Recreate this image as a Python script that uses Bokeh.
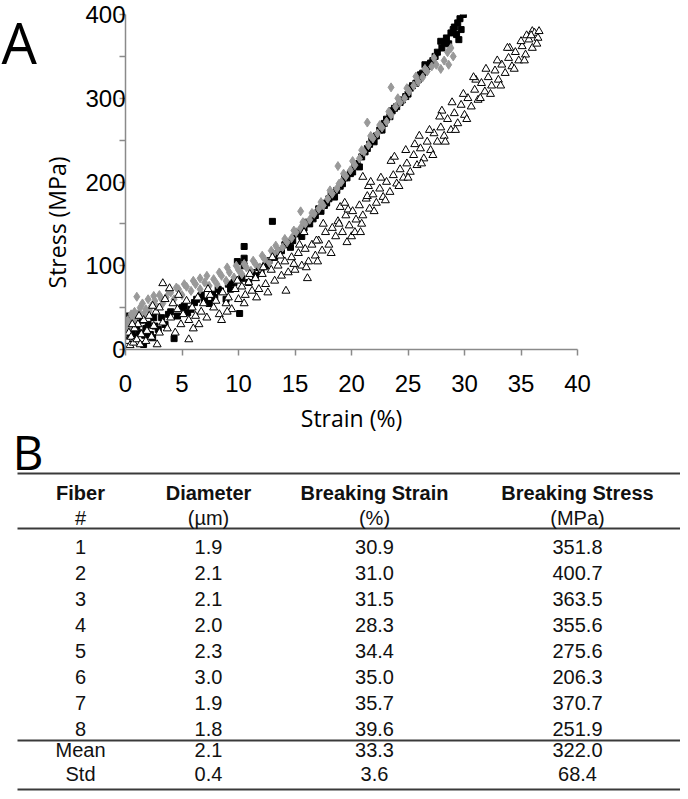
from bokeh.plotting import figure
from bokeh.models import Range1d, FixedTicker, Label, ColumnDataSource
from bokeh.layouts import column, row
from bokeh.core.properties import value
from bokeh.embed import file_html
from bokeh.resources import INLINE

# ---------------- Panel A data (strain %, stress MPa) ----------------
sq_pts = [
    (0.1, 40), (0.2, 25), (0.3, 18), (0.4, 33), (0.5, 30), (0.6, 22), (0.8, 15), (0.9, 36), (1.0, 28),
    (1.2, 20), (1.4, 35), (1.6, 6), (1.7, 17), (1.8, 25), (2.0, 30), (2.2, 18), (2.4, 14), (2.5, 38),
    (2.6, 28), (2.9, 24), (3.2, 38), (3.5, 30), (3.8, 42), (4.0, 45), (4.3, 13), (4.6, 40), (5.0, 50),
    (5.2, 52), (5.5, 44), (5.8, 48), (6.1, 56), (6.3, 60), (6.7, 65), (7.0, 58), (7.4, 55), (7.7, 66),
    (7.9, 62), (8.2, 72), (8.4, 70), (8.9, 60), (9.1, 78), (9.3, 72), (9.6, 80), (9.9, 105), (10.1, 43),
    (10.3, 85), (10.5, 123), (10.5, 109), (10.5, 100), (10.9, 80), (11.2, 92), (11.5, 88), (11.8, 98),
    (12.0, 95), (12.4, 100), (12.7, 106), (13.0, 153), (13.2, 110), (13.5, 115), (13.8, 118), (14.1, 125),
    (14.3, 128), (14.6, 122), (14.8, 130), (15.1, 138), (15.3, 140), (15.6, 135), (15.8, 145), (16.1, 152),
    (16.3, 150), (16.6, 156), (16.8, 160), (17.1, 168), (17.3, 165), (17.6, 172), (17.8, 175), (18.0, 180),
    (18.2, 185), (18.5, 182), (18.7, 190), (19.0, 195), (19.2, 198), (19.4, 205), (19.6, 205), (19.9, 210),
    (20.1, 212), (20.3, 220), (20.5, 222), (20.7, 218), (20.9, 230), (21.2, 236), (21.4, 240), (21.6, 245),
    (21.8, 250), (22.0, 248), (22.2, 255), (22.5, 262), (22.7, 262), (22.9, 270), (23.1, 275), (23.4, 278),
    (23.6, 285), (23.8, 288), (24.0, 290), (24.3, 295), (24.5, 298), (24.8, 302), (25.0, 305), (25.2, 312),
    (25.4, 315), (25.7, 318), (25.9, 322), (26.1, 328), (26.3, 330), (26.5, 340), (26.8, 338), (27.0, 342),
    (27.2, 345), (27.4, 350), (27.6, 355), (27.9, 368), (28.0, 360), (28.2, 366), (28.4, 372), (28.6, 365),
    (28.8, 378), (29.0, 382), (29.1, 385), (29.3, 376), (29.4, 390), (29.5, 370), (29.6, 395), (29.7, 382),
    (29.9, 400),
]
square_strain = [p[0] for p in sq_pts]
square_stress = [p[1] for p in sq_pts]

gr_pts = [
    (0.0, 20), (0.1, 28), (0.2, 35), (0.3, 24), (0.4, 28), (0.5, 42), (0.6, 40), (0.7, 32), (0.8, 45),
    (1.0, 38), (1.0, 63), (1.2, 44), (1.3, 50), (1.5, 55), (1.6, 42), (1.8, 48), (2.0, 60), (2.1, 46),
    (2.3, 52), (2.5, 64), (2.6, 58), (2.8, 50), (3.0, 65), (3.2, 60), (3.3, 55), (3.6, 62), (3.8, 70),
    (4.0, 68), (4.3, 60), (4.5, 74), (4.7, 72), (5.0, 65), (5.2, 78), (5.4, 75), (5.8, 70), (6.0, 82),
    (6.2, 78), (6.6, 72), (6.6, 85), (7.0, 80), (7.2, 88), (7.4, 76), (7.8, 84), (8.1, 78), (8.3, 92),
    (8.5, 88), (8.9, 82), (9.0, 98), (9.2, 92), (9.6, 86), (9.8, 100), (10.0, 95), (10.3, 90), (10.5, 102),
    (10.7, 98), (11.1, 94), (11.3, 106), (11.5, 102), (11.9, 98), (12.1, 112), (12.3, 108), (12.7, 104),
    (12.9, 118), (13.1, 114), (13.3, 124), (13.5, 118), (13.9, 122), (14.1, 132), (14.3, 128), (14.7, 133),
    (14.9, 142), (15.1, 140), (15.5, 145), (15.5, 165), (15.7, 152), (15.9, 150), (16.3, 155), (16.5, 163),
    (16.7, 162), (17.1, 168), (17.3, 176), (17.5, 172), (17.9, 180), (18.1, 190), (18.3, 186), (18.7, 192),
    (18.8, 219), (18.9, 198), (19.1, 200), (19.3, 210), (19.5, 207), (19.9, 214), (20.1, 225), (20.3, 220),
    (20.7, 228), (20.9, 238), (21.1, 236), (21.4, 271), (21.5, 244), (21.7, 255), (21.9, 252), (22.3, 258),
    (22.5, 268), (22.7, 265), (23.1, 272), (23.3, 284), (23.5, 280), (23.5, 313), (23.9, 290), (24.1, 300),
    (24.3, 295), (24.7, 300), (24.9, 312), (25.1, 308), (25.5, 315), (25.7, 326), (25.9, 320), (26.3, 325),
    (26.5, 335), (26.7, 332), (27.1, 338), (27.3, 348), (27.5, 340), (27.9, 335), (28.2, 345), (28.5, 355),
    (28.6, 340), (28.8, 360), (29.0, 350),
]
diamond_strain = [p[0] for p in gr_pts]
diamond_stress = [p[1] for p in gr_pts]

tri_pts = [
    (0.2, 10), (0.3, 20), (0.4, 5), (0.5, 15), (0.7, 8), (0.8, 25), (1.0, 12), (1.1, 30), (1.3, 6),
    (1.4, 18), (1.6, 35), (1.8, 10), (1.9, 22), (2.1, 40), (2.3, 15), (2.5, 28), (2.7, 45), (2.8, 6),
    (3.0, 50), (3.0, 20), (3.3, 79), (3.3, 32), (3.5, 60), (3.7, 25), (3.9, 73), (4.0, 38), (4.2, 55),
    (4.4, 20), (4.6, 48), (4.9, 30), (5.1, 42), (5.4, 58), (5.6, 35), (5.6, 12), (5.9, 50), (6.0, 25),
    (6.2, 40), (6.4, 62), (6.7, 45), (6.9, 55), (7.2, 38), (7.5, 65), (7.8, 50), (8.0, 58), (8.3, 42),
    (8.5, 35), (8.6, 68), (8.9, 55), (9.1, 62), (9.4, 48), (9.7, 72), (10.0, 60), (10.3, 75), (10.5, 55),
    (10.6, 65), (10.9, 80), (11.2, 70), (11.5, 85), (11.8, 72), (12.1, 90), (12.4, 78), (12.6, 68),
    (12.9, 95), (13.0, 110), (13.2, 82), (13.5, 100), (13.8, 88), (14.1, 105), (14.2, 70), (14.4, 92),
    (14.7, 110), (15.0, 95), (15.3, 115), (15.6, 100), (15.8, 140), (15.9, 120), (16.1, 85), (16.2, 105),
    (16.5, 125), (16.8, 112), (17.0, 105), (17.1, 130), (17.4, 118), (17.7, 140), (18.0, 125), (18.3, 145),
    (18.6, 135), (18.8, 153), (18.9, 150), (19.0, 170), (19.2, 140), (19.5, 160), (19.7, 167), (19.8, 148),
    (20.0, 135), (20.1, 165), (20.4, 155), (20.7, 172), (21.0, 206), (21.0, 160), (21.3, 180), (21.4, 183),
    (21.5, 195), (21.6, 168), (21.9, 185), (22.2, 175), (22.5, 192), (22.8, 182), (23.1, 200), (23.4, 188),
    (23.5, 225), (23.7, 208), (24.0, 198), (24.3, 215), (24.6, 205), (24.9, 222), (25.2, 212), (25.5, 232),
    (25.8, 220), (26.0, 255), (26.1, 240), (26.4, 228), (26.7, 248), (27.0, 238), (27.3, 258), (27.6, 248),
    (27.9, 265), (28.0, 285), (28.2, 255), (28.5, 275), (28.8, 262), (29.1, 282), (29.4, 270), (29.7, 292),
    (30.0, 280), (30.3, 300), (30.6, 290), (30.9, 310), (31.0, 322), (31.2, 298), (31.5, 318), (31.8, 308),
    (32.1, 325), (32.4, 315), (32.7, 333), (33.0, 322), (33.3, 340), (33.6, 330), (33.9, 348), (34.0, 360),
    (34.2, 338), (34.5, 355), (34.8, 345), (35.1, 362), (35.4, 352), (35.5, 375), (35.7, 370), (36.0, 360),
    (36.0, 380), (36.2, 378), (36.5, 372),
    (19.4, 175), (20.3, 140), (20.9, 150), (21.7, 200), (22.0, 165), (22.6, 205), (23.0, 178), (23.8, 230),
    (24.2, 195), (24.8, 238), (25.0, 205), (25.6, 245), (26.2, 222), (26.9, 262), (27.2, 232), (27.8, 278),
    (28.3, 248), (28.9, 295), (29.2, 262), (29.9, 305), (30.2, 275), (30.8, 325), (31.4, 300), (31.9, 335),
    (32.3, 305), (32.9, 345), (33.2, 315), (33.8, 360), (34.4, 335), (35.0, 368), (35.3, 345), (35.9, 375),
    (36.4, 365), (36.6, 380), (17.5, 150), (16.9, 130), (16.0, 98), (15.4, 125), (14.9, 102), (13.7, 112),
    (12.2, 98), (11.6, 62), (11.0, 90), (9.9, 82), (9.0, 45), (7.3, 72), (6.5, 30), (4.7, 65), (2.4, 52),
    (1.2, 40), (0.6, 30), (18.2, 115), (19.6, 128), (20.8, 140),
]
triangle_strain = [p[0] for p in tri_pts]
triangle_stress = [p[1] for p in tri_pts]

x_ticks = [0, 5, 10, 15, 20, 25, 30, 35, 40]
y_ticks = [0, 100, 200, 300, 400]
y_minor = [50, 150, 250, 350]
x_title = "Strain (%)"
y_title = "Stress (MPa)"

# ---------------- Panel B data ----------------
header_top = ["Fiber", "Diameter", "Breaking Strain", "Breaking Stress"]
header_sub = ["#", "(µm)", "(%)", "(MPa)"]
fiber_ids = ["1", "2", "3", "4", "5", "6", "7", "8"]
diameter_um = [1.9, 2.1, 2.1, 2.0, 2.3, 3.0, 1.9, 1.8]
breaking_strain = [30.9, 31.0, 31.5, 28.3, 34.4, 35.0, 35.7, 39.6]
breaking_stress = [351.8, 400.7, 363.5, 355.6, 275.6, 206.3, 370.7, 251.9]
summary_names = ["Mean", "Std"]
summary_diameter = [2.1, 0.4]
summary_strain = [33.3, 3.6]
summary_stress = [322.0, 68.4]

FONT_A = "Open Sans"
FONT_T = "Liberation Sans"
AXIS_GREY = "#8a8a8a"
W = 680           # total width used
H = 791           # total height used
WA = 74           # width of the left strip holding "A" and the y title
HT = 401          # height of the top row (scatter plot with its tick labels)

# ---------------- left strip: panel letter and y title ----------------
pA = figure(width=WA, height=HT, x_range=Range1d(0, WA), y_range=Range1d(HT, 0),
            output_backend="svg", toolbar_location=None,
            x_axis_location=None, y_axis_location=None,
            min_border=0, min_border_left=0, min_border_right=0, min_border_top=0, min_border_bottom=0)
pA.outline_line_color = None
pA.grid.visible = False
pA.frame_align = False
pA.add_layout(Label(x=1, y=41, text="A", text_align="left", text_baseline="middle",
                    text_font=FONT_A, text_font_size="56px", text_color="black"))
pA.add_layout(Label(x=56, y=222, text=y_title, angle=1.5707963, angle_units="rad",
                    text_align="center", text_baseline="middle",
                    text_font=FONT_A, text_font_size="23px", text_color="black"))

# ---------------- Panel A figure ----------------
p1 = figure(width=W - WA, height=HT, x_range=Range1d(0, 40), y_range=Range1d(0, 400),
            output_backend="svg", toolbar_location=None,
            min_border_left=125 - WA, min_border_right=W - 577, min_border_top=14,
            min_border_bottom=HT - 349)
p1.outline_line_color = None
p1.grid.visible = False
p1.frame_align = False
p1.background_fill_color = "white"
p1.border_fill_color = "white"

p1.scatter(square_strain, square_stress, marker="square", size=6,
           fill_color="black", line_color="black")
p1.scatter(diamond_strain, diamond_stress, marker="diamond", size=9,
           fill_color="#999999", line_color="#999999")
p1.scatter(triangle_strain, triangle_stress, marker="triangle", size=8,
           fill_color="white", line_color="black", line_width=1)

xa = p1.xaxis[0]
xa.ticker = FixedTicker(ticks=x_ticks)
xa.major_label_text_font = FONT_T
xa.major_label_text_font_size = "24px"
xa.major_label_text_color = "black"
xa.major_label_standoff = 19
xa.axis_line_color = AXIS_GREY
xa.axis_line_width = 1.5
xa.major_tick_line_color = AXIS_GREY
xa.major_tick_line_width = 1.5
xa.major_tick_in = 0
xa.major_tick_out = 6
xa.minor_tick_line_color = None

ya = p1.yaxis[0]
ya.ticker = FixedTicker(ticks=y_ticks, minor_ticks=y_minor)
ya.major_label_text_font = FONT_T
ya.major_label_text_font_size = "24px"
ya.major_label_text_color = "black"
ya.major_label_standoff = -6
ya.axis_line_color = AXIS_GREY
ya.axis_line_width = 1.5
ya.major_tick_line_color = AXIS_GREY
ya.major_tick_line_width = 1.5
ya.major_tick_in = 0
ya.major_tick_out = 6
ya.minor_tick_line_color = AXIS_GREY
ya.minor_tick_line_width = 1.5
ya.minor_tick_in = 0
ya.minor_tick_out = 6

# ---------------- lower figure: x title, panel letter "B" and the table ----------------
p2 = figure(width=W, height=H - HT, x_range=Range1d(0, W), y_range=Range1d(H, HT),
            output_backend="svg", toolbar_location=None,
            x_axis_location=None, y_axis_location=None,
            min_border=0, min_border_left=0, min_border_right=0, min_border_top=0, min_border_bottom=0)
p2.outline_line_color = None
p2.grid.visible = False
p2.frame_align = False

p2.add_layout(Label(x=351, y=417, text=x_title, text_align="center", text_baseline="middle",
                    text_font=FONT_A, text_font_size="23px", text_color="black"))
p2.add_layout(Label(x=12, y=451, text="B", text_align="left", text_baseline="middle",
                    text_font=FONT_A, text_font_size="48px", text_color="black"))

col_x = [80, 208, 374, 577]
row_y0, row_dy = 546, 26
hdr_y = [492, 517]
rule_y = [473, 528, 740, 789]
sum_y = [749, 773]

hdr_src = ColumnDataSource(dict(x=col_x, y=[hdr_y[0]] * 4, t=header_top))
sub_src = ColumnDataSource(dict(x=col_x, y=[hdr_y[1]] * 4, t=header_sub))

cx, cy, ct = [], [], []
for i in range(len(fiber_ids)):
    vals = [fiber_ids[i], f"{diameter_um[i]:.1f}", f"{breaking_strain[i]:.1f}", f"{breaking_stress[i]:.1f}"]
    for j, v in enumerate(vals):
        cx.append(col_x[j]); cy.append(row_y0 + i * row_dy); ct.append(v)
for i in range(len(summary_names)):
    vals = [summary_names[i], f"{summary_diameter[i]:.1f}", f"{summary_strain[i]:.1f}", f"{summary_stress[i]:.1f}"]
    for j, v in enumerate(vals):
        cx.append(col_x[j]); cy.append(sum_y[i]); ct.append(v)
body_src = ColumnDataSource(dict(x=cx, y=cy, t=ct))

p2.segment(x0=[17] * 4, x1=[W] * 4, y0=rule_y, y1=rule_y, line_color="#3a3a3a", line_width=2)
p2.text(x="x", y="y", text="t", source=hdr_src, text_align="center", text_baseline="middle",
        text_font=value(FONT_T), text_font_size="20px", text_font_style="bold", text_color="#111111")
p2.text(x="x", y="y", text="t", source=sub_src, text_align="center", text_baseline="middle",
        text_font=value(FONT_T), text_font_size="20px", text_color="#111111")
p2.text(x="x", y="y", text="t", source=body_src, text_align="center", text_baseline="middle",
        text_font=value(FONT_T), text_font_size="20px", text_color="#111111")

layout = column(row(pA, p1, spacing=0), p2, spacing=0)
open("out.html", "w").write(file_html(layout, INLINE))
